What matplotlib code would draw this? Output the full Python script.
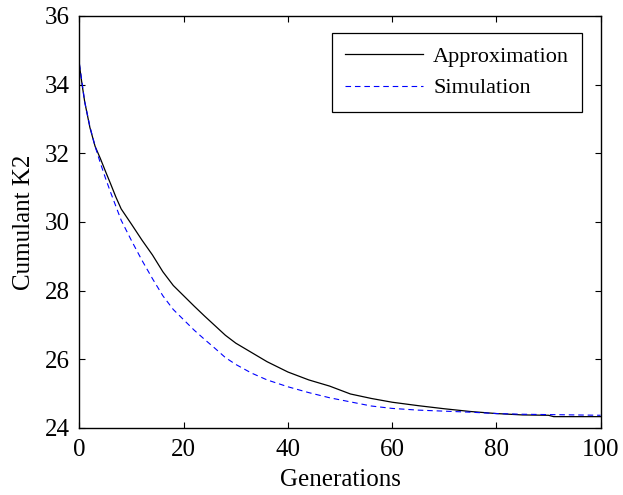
import matplotlib
matplotlib.use("Agg")
import matplotlib.pyplot as plt

# generations / values
gen_approx = [0, 0.5, 1, 2, 3, 4, 5, 6, 7, 8, 10, 12, 14, 16, 18, 20, 22, 24, 26, 28, 30,
              33, 36, 40, 44, 48, 52, 56, 60, 65, 70, 75, 80, 85, 90, 91, 95, 100]
k2_approx = [34.55, 34.0, 33.5, 32.75, 32.2, 31.85, 31.47, 31.1, 30.72, 30.38, 29.93, 29.47,
             29.04, 28.55, 28.15, 27.85, 27.55, 27.26, 26.98, 26.7, 26.47, 26.2, 25.93, 25.63,
             25.4, 25.22, 24.99, 24.86, 24.75, 24.65, 24.56, 24.48, 24.42, 24.38, 24.37, 24.33,
             24.33, 24.33]

gen_sim = [0, 1, 2, 3, 4, 5, 6, 8, 10, 12, 14, 16, 18, 20, 22, 24, 26, 28, 30, 33, 36, 40,
           44, 48, 52, 56, 60, 65, 70, 75, 80, 85, 90, 100]
k2_sim = [34.6, 33.5, 32.78, 32.2, 31.72, 31.27, 30.85, 30.05, 29.45, 28.88, 28.35, 27.85,
          27.45, 27.15, 26.85, 26.58, 26.32, 26.05, 25.85, 25.6, 25.4, 25.2, 25.03, 24.88,
          24.76, 24.64, 24.57, 24.52, 24.49, 24.46, 24.42, 24.4, 24.39, 24.37]

plt.rcParams['font.family'] = ['Liberation Serif', 'DejaVu Serif']
fs = 18

fig = plt.figure(figsize=(6.23, 4.95), dpi=100)
ax = fig.add_axes([0.1276, 0.1354, 0.8364, 0.8323])

ax.plot(gen_approx, k2_approx, color='black', lw=0.9, label='Approximation')
ax.plot(gen_sim, k2_sim, color='blue', lw=0.8, dashes=(5, 3.5), label='Simulation')

ax.set_xlim(0, 100)
ax.set_ylim(24, 36)
ax.set_xticks([0, 20, 40, 60, 80, 100])
ax.set_yticks([24, 26, 28, 30, 32, 34, 36])
ax.tick_params(direction='in', length=4, width=0.8, top=True, right=True, labelsize=fs)
ax.tick_params(axis='x', pad=8)
ax.tick_params(axis='y', pad=7)
for s in ax.spines.values():
    s.set_linewidth(1.0)

ax.set_xlabel('Generations', fontsize=fs, labelpad=6)
ax.set_ylabel('Cumulant K2', fontsize=fs, labelpad=7)

leg = ax.legend(loc='upper right', bbox_to_anchor=(0.965, 0.959), fancybox=False, fontsize=16,
                edgecolor='black', framealpha=1, handlelength=3.5, borderpad=0.6,
                labelspacing=0.5, handletextpad=0.45, borderaxespad=0)
leg.get_frame().set_linewidth(0.9)

fig.savefig('out.png', dpi=100)
